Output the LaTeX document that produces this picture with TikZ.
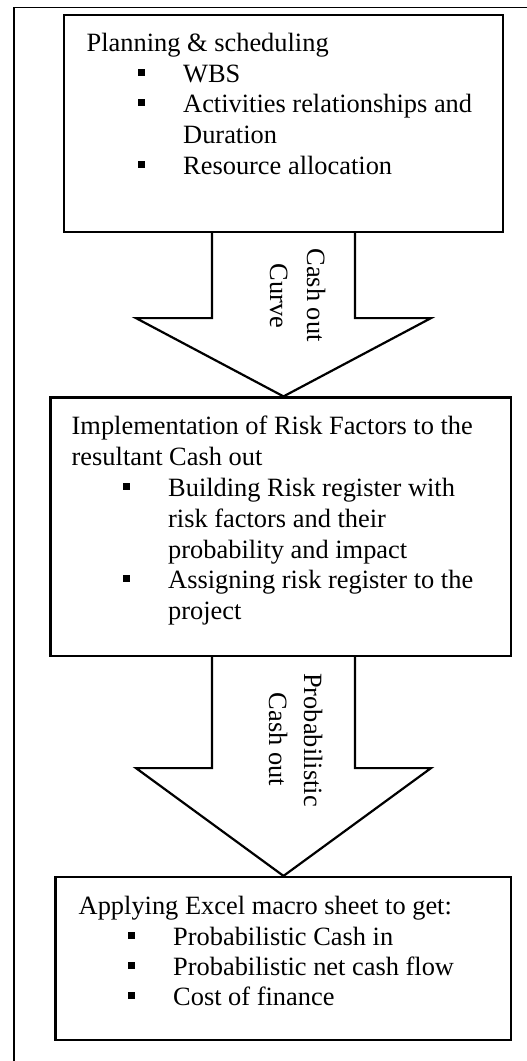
\documentclass[tikz,border=0pt]{standalone}
\usepackage{fontspec}
\setmainfont{Liberation Serif}
\usetikzlibrary{calc}
\tikzset{
  boxnode/.style={draw, line width=2.2pt, fill=white, inner sep=0pt, line join=miter},
  arrowshape/.style={draw, line width=2.2pt, fill=white, line join=miter},
  frameline/.style={draw, line width=1.6pt},
  txt/.style={font=\fontsize{26.4}{31}\selectfont, inner sep=0pt, anchor=base west},
  rtxt/.style={font=\fontsize{26.4}{31}\selectfont, inner sep=0pt, anchor=base, rotate=-90},
}
\newcommand{\bul}{\llap{\rule[6.5pt]{6.5pt}{6.5pt}\hspace{38.5pt}}}
\begin{document}
\begin{tikzpicture}[x=1pt,y=-1pt]
\useasboundingbox (0,0) rectangle (527,1061);
% outer frame (top and left only)
\coordinate (fbl) at (14,1061);
\coordinate (ftl) at (14,7.5);
\coordinate (ftr) at (527,7.5);
\draw[frameline] (fbl) -- (ftl) -- (ftr);

% boxes
\node[boxnode, minimum width=439pt, minimum height=217pt] (b1) at (283.5,123.5) {};
\node[boxnode, minimum width=460.5pt, minimum height=258.5pt] (b2) at (280.75,526.75) {};
\node[boxnode, minimum width=455.5pt, minimum height=163pt] (b3) at (283.25,958.5) {};

% block arrows
\draw[arrowshape] ($(b1.south)+(-71.5,0)$) -- ($(b1.south)+(-71.5,85)$) -- ($(b1.south)+(-147.5,85)$)
  -- (b1.south |- b2.north) -- ($(b1.south)+(147.5,85)$) -- ($(b1.south)+(71.5,85)$) -- ($(b1.south)+(71.5,0)$);
\draw[arrowshape] ($(b1.south |- b2.south)+(-71.5,0)$) -- ($(b1.south |- b2.south)+(-71.5,111)$) -- ($(b1.south |- b2.south)+(-147.5,111)$)
  -- (b1.south |- b3.north) -- ($(b1.south |- b2.south)+(147.5,111)$) -- ($(b1.south |- b2.south)+(71.5,111)$) -- ($(b1.south |- b2.south)+(71.5,0)$);

% arrow labels
\node[rtxt] (a1l1) at (307,295) {Cash out};
\node[rtxt] (a1l2) at (270,296) {Curve};
\node[rtxt] (a2l1) at (304,740) {Probabilistic};
\node[rtxt] (a2l2) at (269,739.5) {Cash out};

% box 1 text
\node[txt] (t11) at (86.5,51) {Planning \& scheduling};
\node[txt] (t12) at (183,82) {\bul WBS};
\node[txt] (t13) at (183,112) {\bul Activities relationships and};
\node[txt] (t14) at (183,143) {Duration};
\node[txt] (t15) at (183,174) {\bul Resource allocation};

% box 2 text
\node[txt] (t21) at (71.5,434) {Implementation of Risk Factors to the};
\node[txt] (t22) at (71.5,465) {resultant Cash out};
\node[txt] (t23) at (168,496) {\bul Building Risk register with};
\node[txt] (t24) at (168,527) {risk factors and their};
\node[txt] (t25) at (168,558) {probability and impact};
\node[txt] (t26) at (168,588) {\bul Assigning risk register to the};
\node[txt] (t27) at (168,619) {project};

% box 3 text
\node[txt] (t31) at (78.5,914) {Applying Excel macro sheet to get:};
\node[txt] (t32) at (173,945) {\bul Probabilistic Cash in};
\node[txt] (t33) at (173,975) {\bul Probabilistic net cash flow};
\node[txt] (t34) at (173,1005) {\bul Cost of finance};
\end{tikzpicture}
\end{document}
